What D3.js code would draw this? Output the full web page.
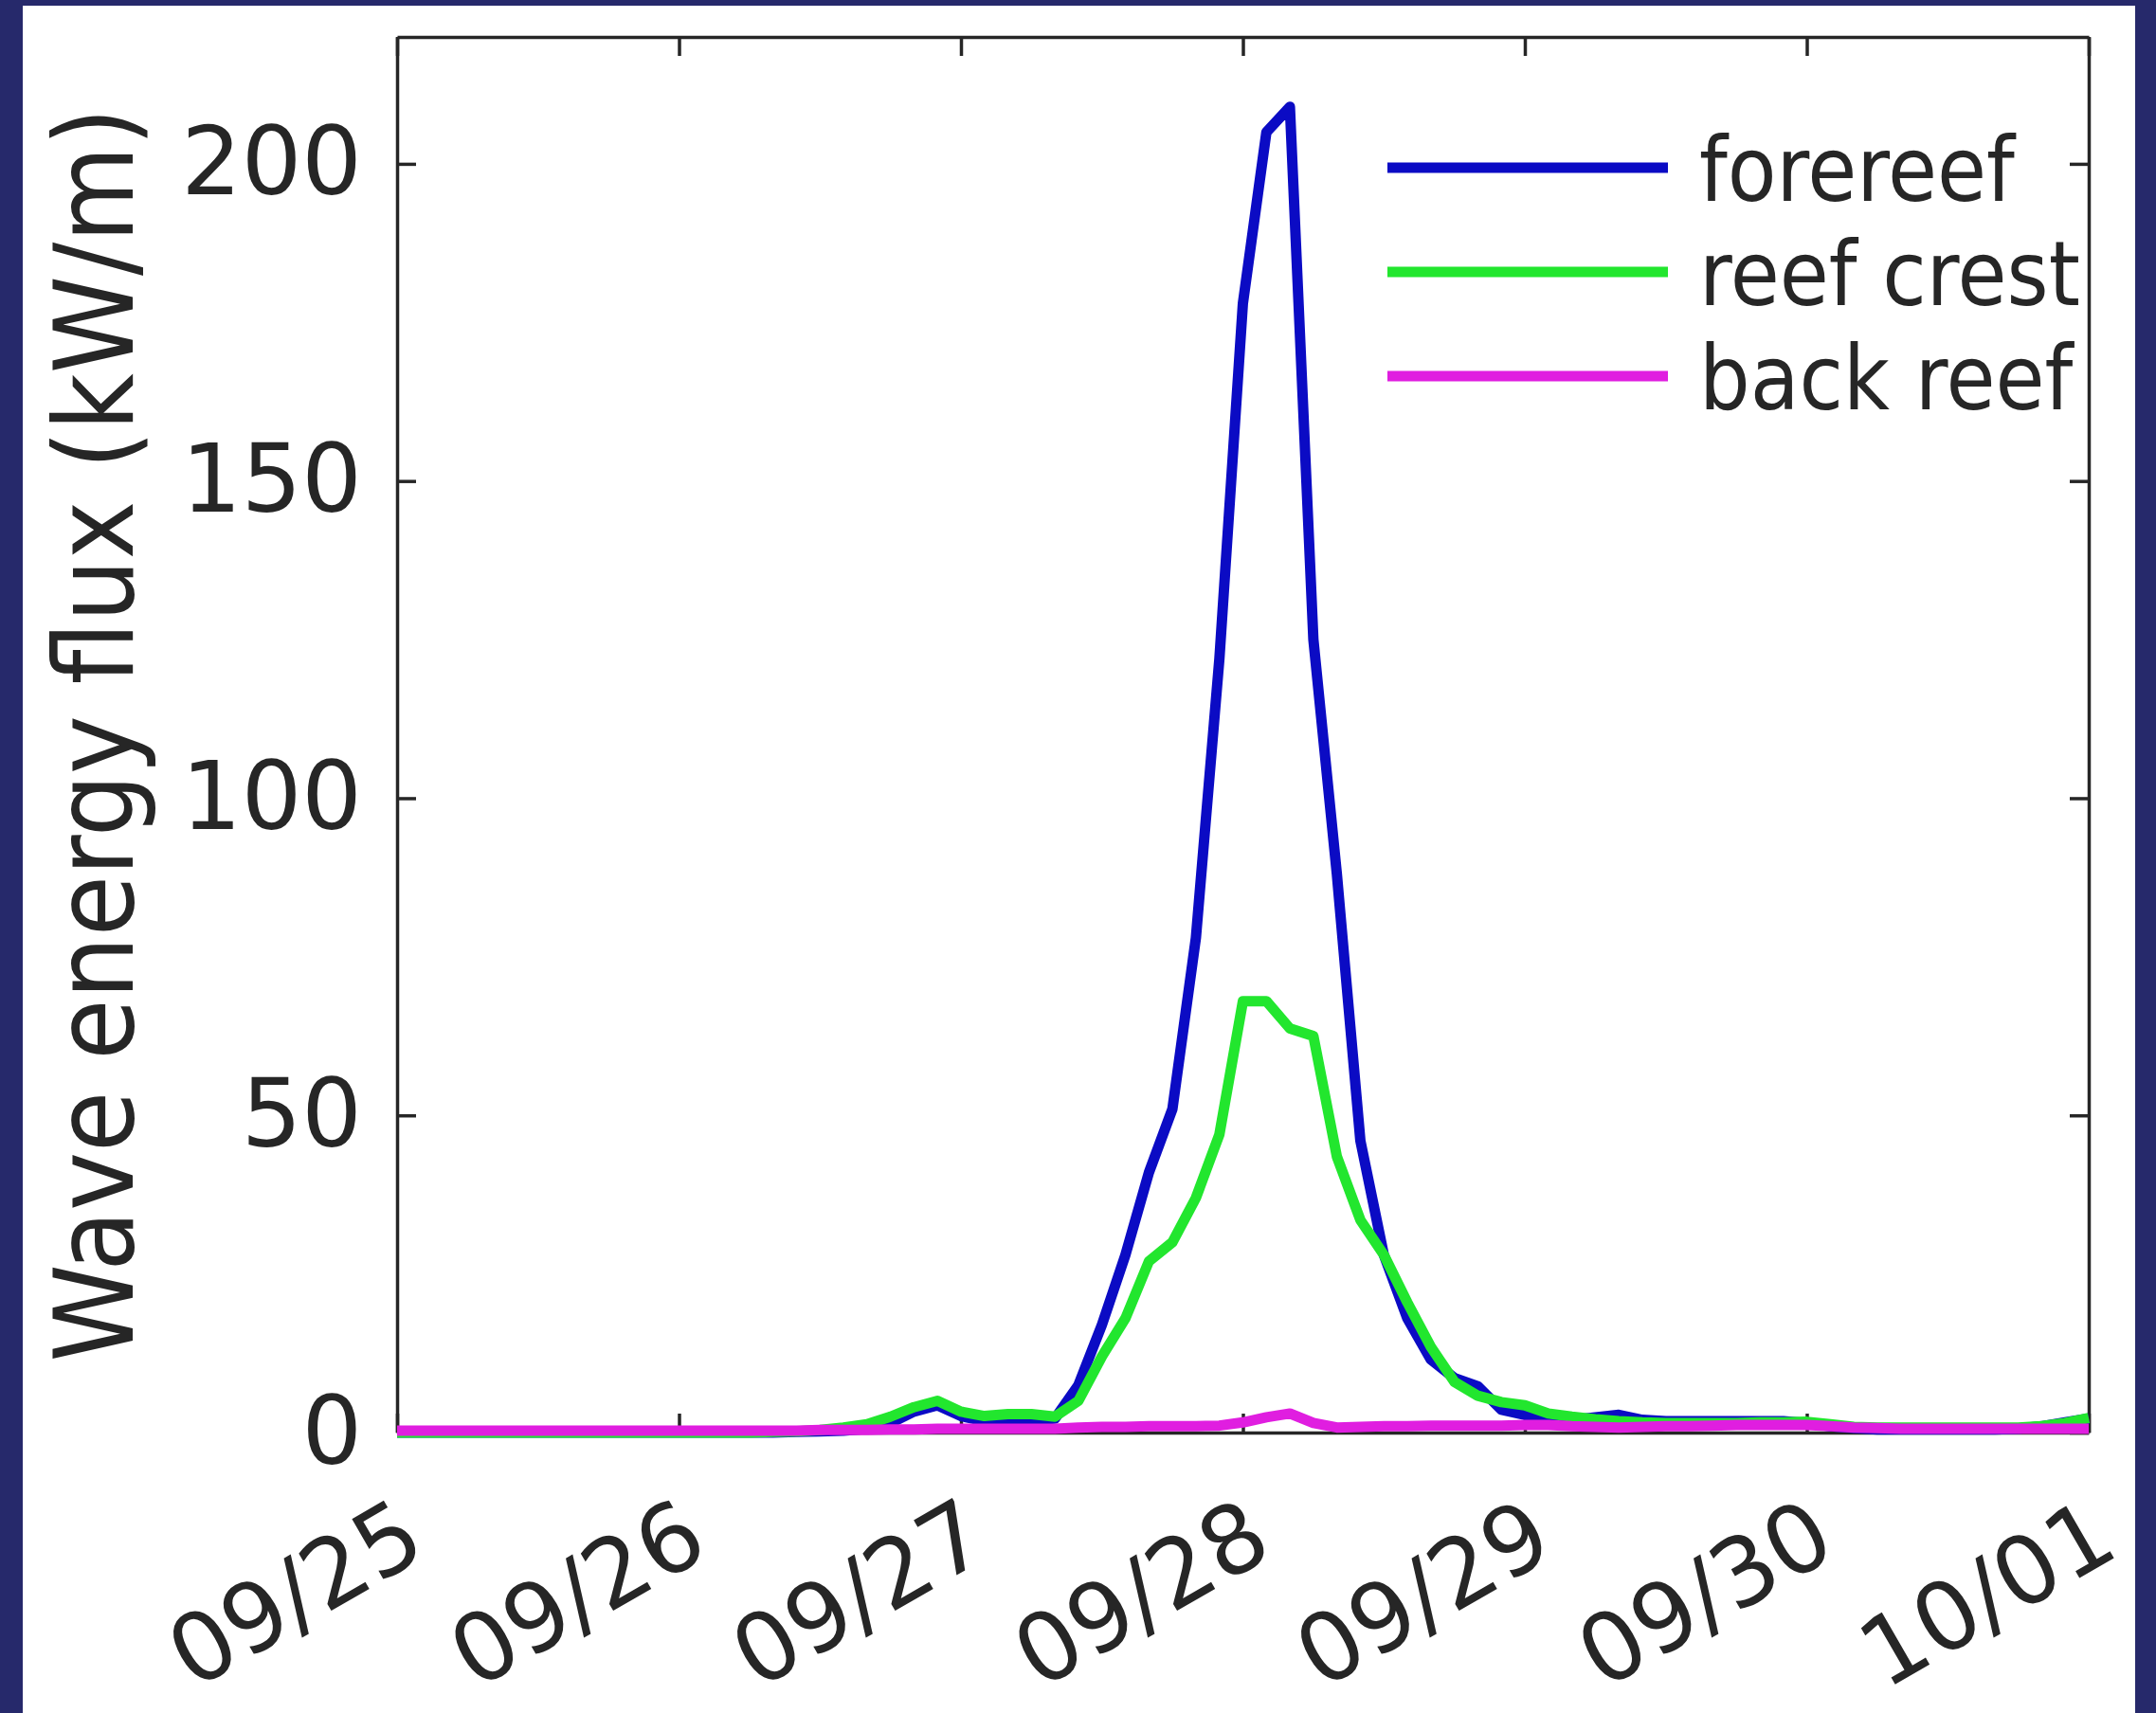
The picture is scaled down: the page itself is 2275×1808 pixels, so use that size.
<!DOCTYPE html>
<html>
<head>
<meta charset="utf-8">
<script src="https://cdn.jsdelivr.net/npm/d3@7"></script>
<style>
  body { margin: 0; background: #fff; }
  text { fill: #262626; }
  .num { font-family: "DejaVu Sans", sans-serif; font-size: 100px; }
  .lab { font-family: "DejaVu Sans Condensed", "DejaVu Sans", sans-serif; font-stretch: condensed; }
</style>
</head>
<body>
<div id="chart"></div>
<script>
// hours since 09/25 00:00, every 2 hours
const hours = d3.range(0, 145, 2);

const forereef = [
  0, 0, 0, 0, 0, 0, 0, 0, 0, 0, 0, 0, 0, 0, 0, 0, 0, 0.1,
  0.2, 0.3, 0.6, 1.5, 3.3, 4.3, 2.6, 1.8, 1.8, 1.9, 2.2, 7.5,
  17, 28, 41, 51, 78, 122, 178, 205, 209, 125, 88, 46,
  28, 18, 11.5, 8.6, 7.3, 3.6, 2.8, 2.0, 2.0, 2.4, 2.8, 2.0,
  1.8, 1.8, 1.8, 1.8, 1.8, 1.8, 1.5, 1.0, 0.7, 0.5, 0.5, 0.5,
  0.5, 0.5, 0.5, 0.6, 1.0, 1.6, 2.2
];

const reefCrest = [
  0, 0, 0, 0, 0, 0, 0, 0, 0, 0, 0, 0, 0, 0, 0, 0, 0.1, 0.2,
  0.4, 0.8, 1.3, 2.5, 4.0, 5.0, 3.3, 2.6, 2.9, 2.9, 2.5, 5.0,
  12, 18, 27, 30, 37, 47, 68, 68, 63.7, 62.5, 43.5, 33.5,
  28, 20.5, 13.5, 8.0, 5.8, 4.8, 4.3, 3.0, 2.5, 2.1, 1.8, 1.6,
  1.5, 1.5, 1.5, 1.5, 1.6, 1.6, 1.7, 1.3, 0.9, 0.8, 0.8, 0.8,
  0.8, 0.8, 0.8, 0.8, 1.0, 1.5, 2.3
];

const backReef = [
  0.3, 0.3, 0.3, 0.3, 0.3, 0.3, 0.3, 0.3, 0.3, 0.3, 0.3, 0.3, 0.3, 0.3, 0.3, 0.3, 0.3, 0.3,
  0.4, 0.4, 0.4, 0.5, 0.5, 0.6, 0.6, 0.6, 0.6, 0.6, 0.6, 0.8,
  0.9, 0.9, 1.0, 1.0, 1.0, 1.1, 1.6, 2.4, 3.0, 1.5, 0.8, 0.9,
  1.0, 1.0, 1.1, 1.1, 1.1, 1.1, 1.2, 1.2, 1.0, 0.9, 0.8, 0.9,
  1.0, 1.0, 1.1, 1.2, 1.2, 1.2, 1.2, 1.0, 0.8, 0.7, 0.6, 0.6,
  0.6, 0.6, 0.6, 0.6, 0.6, 0.6, 0.6
];

const seriesNames = ["forereef", "reef crest", "back reef"];
const seriesColors = ["#0b0bc4", "#22e62e", "#e01ee0"];
const yTicks = [0, 50, 100, 150, 200];
const yLabel = "Wave energy flux (kW/m)";

const width = 2275, height = 1808;
const margin = { left: 419, right: 71, top: 39, bottom: 296 };
const start = Date.UTC(2017, 8, 25);

const svg = d3.select("#chart").append("svg")
  .attr("width", width)
  .attr("height", height);

// navy frame round the figure
svg.append("rect").attr("width", width).attr("height", height).attr("fill", "#26296b");
svg.append("rect").attr("x", 24).attr("y", 6)
  .attr("width", width - 24 - 22).attr("height", height - 6)
  .attr("fill", "#fff");

const x = d3.scaleUtc()
  .domain([new Date(start), new Date(start + 6 * 864e5)])
  .range([margin.left, width - margin.right]);
const y = d3.scaleLinear()
  .domain([0, 220])
  .range([height - margin.bottom, margin.top]);

const days = d3.utcDay.range(x.domain()[0], new Date(+x.domain()[1] + 1));

// box with inward ticks on all four sides
const gx = svg.append("g")
  .attr("transform", `translate(0,${height - margin.bottom})`)
  .call(d3.axisBottom(x).tickValues(days).tickFormat(d3.utcFormat("%m/%d"))
    .tickSizeInner(-20).tickSizeOuter(0));
gx.selectAll("text")
  .attr("class", "num")
  .attr("text-anchor", "end")
  .attr("x", 34).attr("y", 128).attr("dy", 0)
  .attr("transform", "rotate(-30,34,128)");

svg.append("g")
  .attr("transform", `translate(0,${margin.top})`)
  .call(d3.axisTop(x).tickValues(days).tickFormat("").tickSizeInner(-20).tickSizeOuter(0));

const gy = svg.append("g")
  .attr("transform", `translate(${margin.left},0)`)
  .call(d3.axisLeft(y).tickValues(yTicks).tickSizeInner(-20).tickSizeOuter(0).tickPadding(37));
gy.selectAll("text").attr("class", "num");

svg.append("g")
  .attr("transform", `translate(${width - margin.right},0)`)
  .call(d3.axisRight(y).tickValues(yTicks).tickFormat("").tickSizeInner(-20).tickSizeOuter(0));

svg.selectAll(".domain, .tick line").attr("stroke", "#262626").attr("stroke-width", 3.5);
svg.selectAll(".tick text").attr("fill", "#262626");

svg.append("text")
  .attr("class", "lab")
  .attr("transform", `translate(140,${(margin.top + height - margin.bottom) / 2}) rotate(-90)`)
  .attr("text-anchor", "middle")
  .attr("font-size", 116)
  .text(yLabel);

// series
const line = d3.line()
  .x((d, i) => x(new Date(start + hours[i] * 36e5)))
  .y(d => y(d));

[forereef, reefCrest, backReef].forEach((vals, k) => {
  svg.append("path")
    .datum(vals)
    .attr("fill", "none")
    .attr("stroke", seriesColors[k])
    .attr("stroke-width", 11)
    .attr("stroke-linejoin", "round")
    .attr("d", line);
});

// legend
const legend = svg.append("g").attr("transform", "translate(1464,177)");
seriesNames.forEach((name, i) => {
  const row = legend.append("g").attr("transform", `translate(0,${i * 110})`);
  row.append("line")
    .attr("x1", 0).attr("x2", 296)
    .attr("stroke", seriesColors[i])
    .attr("stroke-width", 11);
  row.append("text")
    .attr("class", "lab")
    .attr("x", 329).attr("y", 35)
    .attr("font-size", 94)
    .text(name);
});
</script>
</body>
</html>
